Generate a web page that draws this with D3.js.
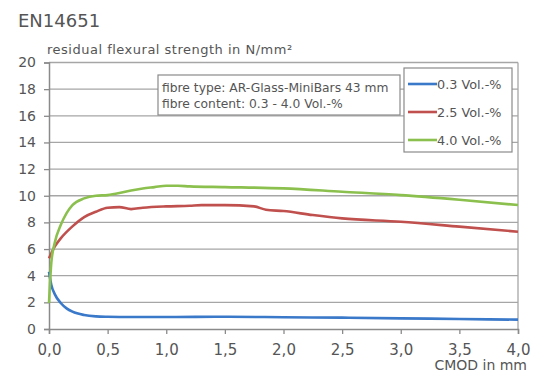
<!DOCTYPE html>
<html>
<script src="https://d3js.org/d3.v7.min.js"></script>
<body style="margin:0;background:#fff">
<svg id="chart"></svg>
<script>
// CMOD (mm) and residual flexural strength (N/mm²)
const cmod03 = [0, 0.02, 0.05, 0.1, 0.15, 0.2, 0.3, 0.4, 0.5, 0.7, 1.0, 1.5, 2.0, 2.5, 3.0, 3.5, 4.0];
const val03  = [4.3, 3.3, 2.6, 1.95, 1.55, 1.3, 1.05, 0.95, 0.92, 0.9, 0.9, 0.92, 0.88, 0.85, 0.8, 0.75, 0.7];

const cmod25 = [0, 0.05, 0.1, 0.2, 0.3, 0.4, 0.5, 0.6, 0.7, 0.8, 1.0, 1.2, 1.3, 1.5, 1.75, 1.85, 2.0, 2.25, 2.5, 3.0, 3.5, 4.0];
const val25  = [5.3, 6.2, 6.8, 7.7, 8.4, 8.8, 9.1, 9.15, 9.0, 9.1, 9.2, 9.25, 9.3, 9.3, 9.2, 8.95, 8.85, 8.55, 8.3, 8.05, 7.68, 7.3];

const cmod40 = [0, 0.02, 0.05, 0.1, 0.15, 0.2, 0.3, 0.4, 0.5, 0.6, 0.7, 0.8, 0.9, 1.0, 1.1, 1.2, 1.5, 2.0, 2.5, 3.0, 3.5, 4.0];
const val40  = [1.95, 5.0, 6.5, 7.8, 8.7, 9.3, 9.8, 10.0, 10.05, 10.2, 10.4, 10.55, 10.65, 10.75, 10.75, 10.7, 10.65, 10.55, 10.3, 10.05, 9.7, 9.3];

const seriesNames = ["0.3 Vol.-%", "2.5 Vol.-%", "4.0 Vol.-%"];
const seriesColors = ["#3a78c9", "#c0504d", "#8cc04e"];
const xTicks = [0, 0.5, 1, 1.5, 2, 2.5, 3, 3.5, 4];
const yTicks = [0, 2, 4, 6, 8, 10, 12, 14, 16, 18, 20];
const infoLines = ["fibre type: AR-Glass-MiniBars 43 mm", "fibre content: 0.3 - 4.0 Vol.-%"];

const W = 542, H = 373;
const plotL = 49, plotR = 518, plotT = 62.5, plotB = 329;
const textColor = "#555";
const font = "'DejaVu Sans', Verdana, sans-serif";

const svg = d3.select('#chart').attr('width', W).attr('height', H)
    .style('font-family', font);

const x = d3.scaleLinear().domain([0, 4]).range([plotL, plotR]);
const y = d3.scaleLinear().domain([0, 20]).range([plotB, plotT]);

// grid lines
svg.append('g')
   .selectAll('line')
   .data(yTicks.filter(d => d > 0))
   .enter()
   .append('line')
     .attr('x1', plotL).attr('x2', plotR)
     .attr('y1', d => y(d)).attr('y2', d => y(d))
     .attr('stroke', '#a6a6a6').attr('stroke-width', 1.3);

// right border
svg.append('line')
   .attr('x1', plotR).attr('x2', plotR).attr('y1', plotT).attr('y2', plotB)
   .attr('stroke', '#a6a6a6').attr('stroke-width', 1.3);

// y axis
svg.append('g')
   .attr('transform', `translate(${plotL},0)`)
   .call(d3.axisLeft(y).tickValues(yTicks).tickSize(5).tickPadding(8))
   .call(g => {
      g.select('.domain').attr('stroke', '#8a8a8a').attr('stroke-width', 1.5);
      g.selectAll('.tick line').attr('stroke', '#8a8a8a').attr('stroke-width', 1.3);
      g.selectAll('text').attr('fill', textColor).style('font-size', '14px').style('font-family', font);
   });

// x axis
svg.append('g')
   .attr('transform', `translate(0,${plotB})`)
   .call(d3.axisBottom(x).tickValues(xTicks).tickSize(5).tickPadding(10)
           .tickFormat(d => d3.format('.1f')(d).replace('.', ',')))
   .call(g => {
      g.select('.domain').attr('stroke', '#8a8a8a').attr('stroke-width', 1.5);
      g.selectAll('.tick line').attr('stroke', '#8a8a8a').attr('stroke-width', 1.3);
      g.selectAll('text').attr('fill', textColor).style('font-size', '15px').style('font-family', font);
   });

// lines
const line = d3.line().x(d => x(d[0])).y(d => y(d[1])).curve(d3.curveMonotoneX);
const series = [
    d3.zip(cmod03, val03),
    d3.zip(cmod25, val25),
    d3.zip(cmod40, val40)
];
svg.append('g')
   .selectAll('path')
   .data(series)
   .enter()
   .append('path')
     .attr('d', line)
     .attr('fill', 'none')
     .attr('stroke', (d, i) => seriesColors[i])
     .attr('stroke-width', 2.6);

// titles
svg.append('text').attr('x', 18).attr('y', 27).text('EN14651')
   .attr('fill', textColor).style('font-size', '18px');
svg.append('text').attr('x', 47).attr('y', 54).text('residual flexural strength in N/mm²')
   .attr('fill', textColor).style('font-size', '13px').style('letter-spacing', '0.5px');
svg.append('text').attr('x', 527).attr('y', 370).attr('text-anchor', 'end').text('CMOD in mm')
   .attr('fill', textColor).style('font-size', '14px');

// info box
svg.append('rect').attr('x', 158).attr('y', 75).attr('width', 242).attr('height', 40)
   .attr('fill', '#fff').attr('stroke', '#8a8a8a').attr('stroke-width', 1.2);
svg.append('g')
   .selectAll('text')
   .data(infoLines)
   .enter()
   .append('text')
     .attr('x', 162).attr('y', (d, i) => 92 + i * 16)
     .text(d => d)
     .attr('fill', textColor).style('font-size', '12.3px');

// legend
svg.append('rect').attr('x', 404).attr('y', 68).attr('width', 108).attr('height', 84)
   .attr('fill', '#fff').attr('stroke', '#8a8a8a').attr('stroke-width', 1.2);
const legend = svg.append('g')
   .selectAll('g')
   .data(seriesNames)
   .enter()
   .append('g')
     .attr('transform', (d, i) => `translate(408,${84 + i * 28})`);
legend.append('line').attr('x1', 0).attr('x2', 29).attr('y1', 0).attr('y2', 0)
   .attr('stroke', (d, i) => seriesColors[i]).attr('stroke-width', 2.6);
legend.append('text').attr('x', 29).attr('y', 4.5).text(d => d)
   .attr('fill', textColor).style('font-size', '12.8px');
</script>
</body>
</html>
